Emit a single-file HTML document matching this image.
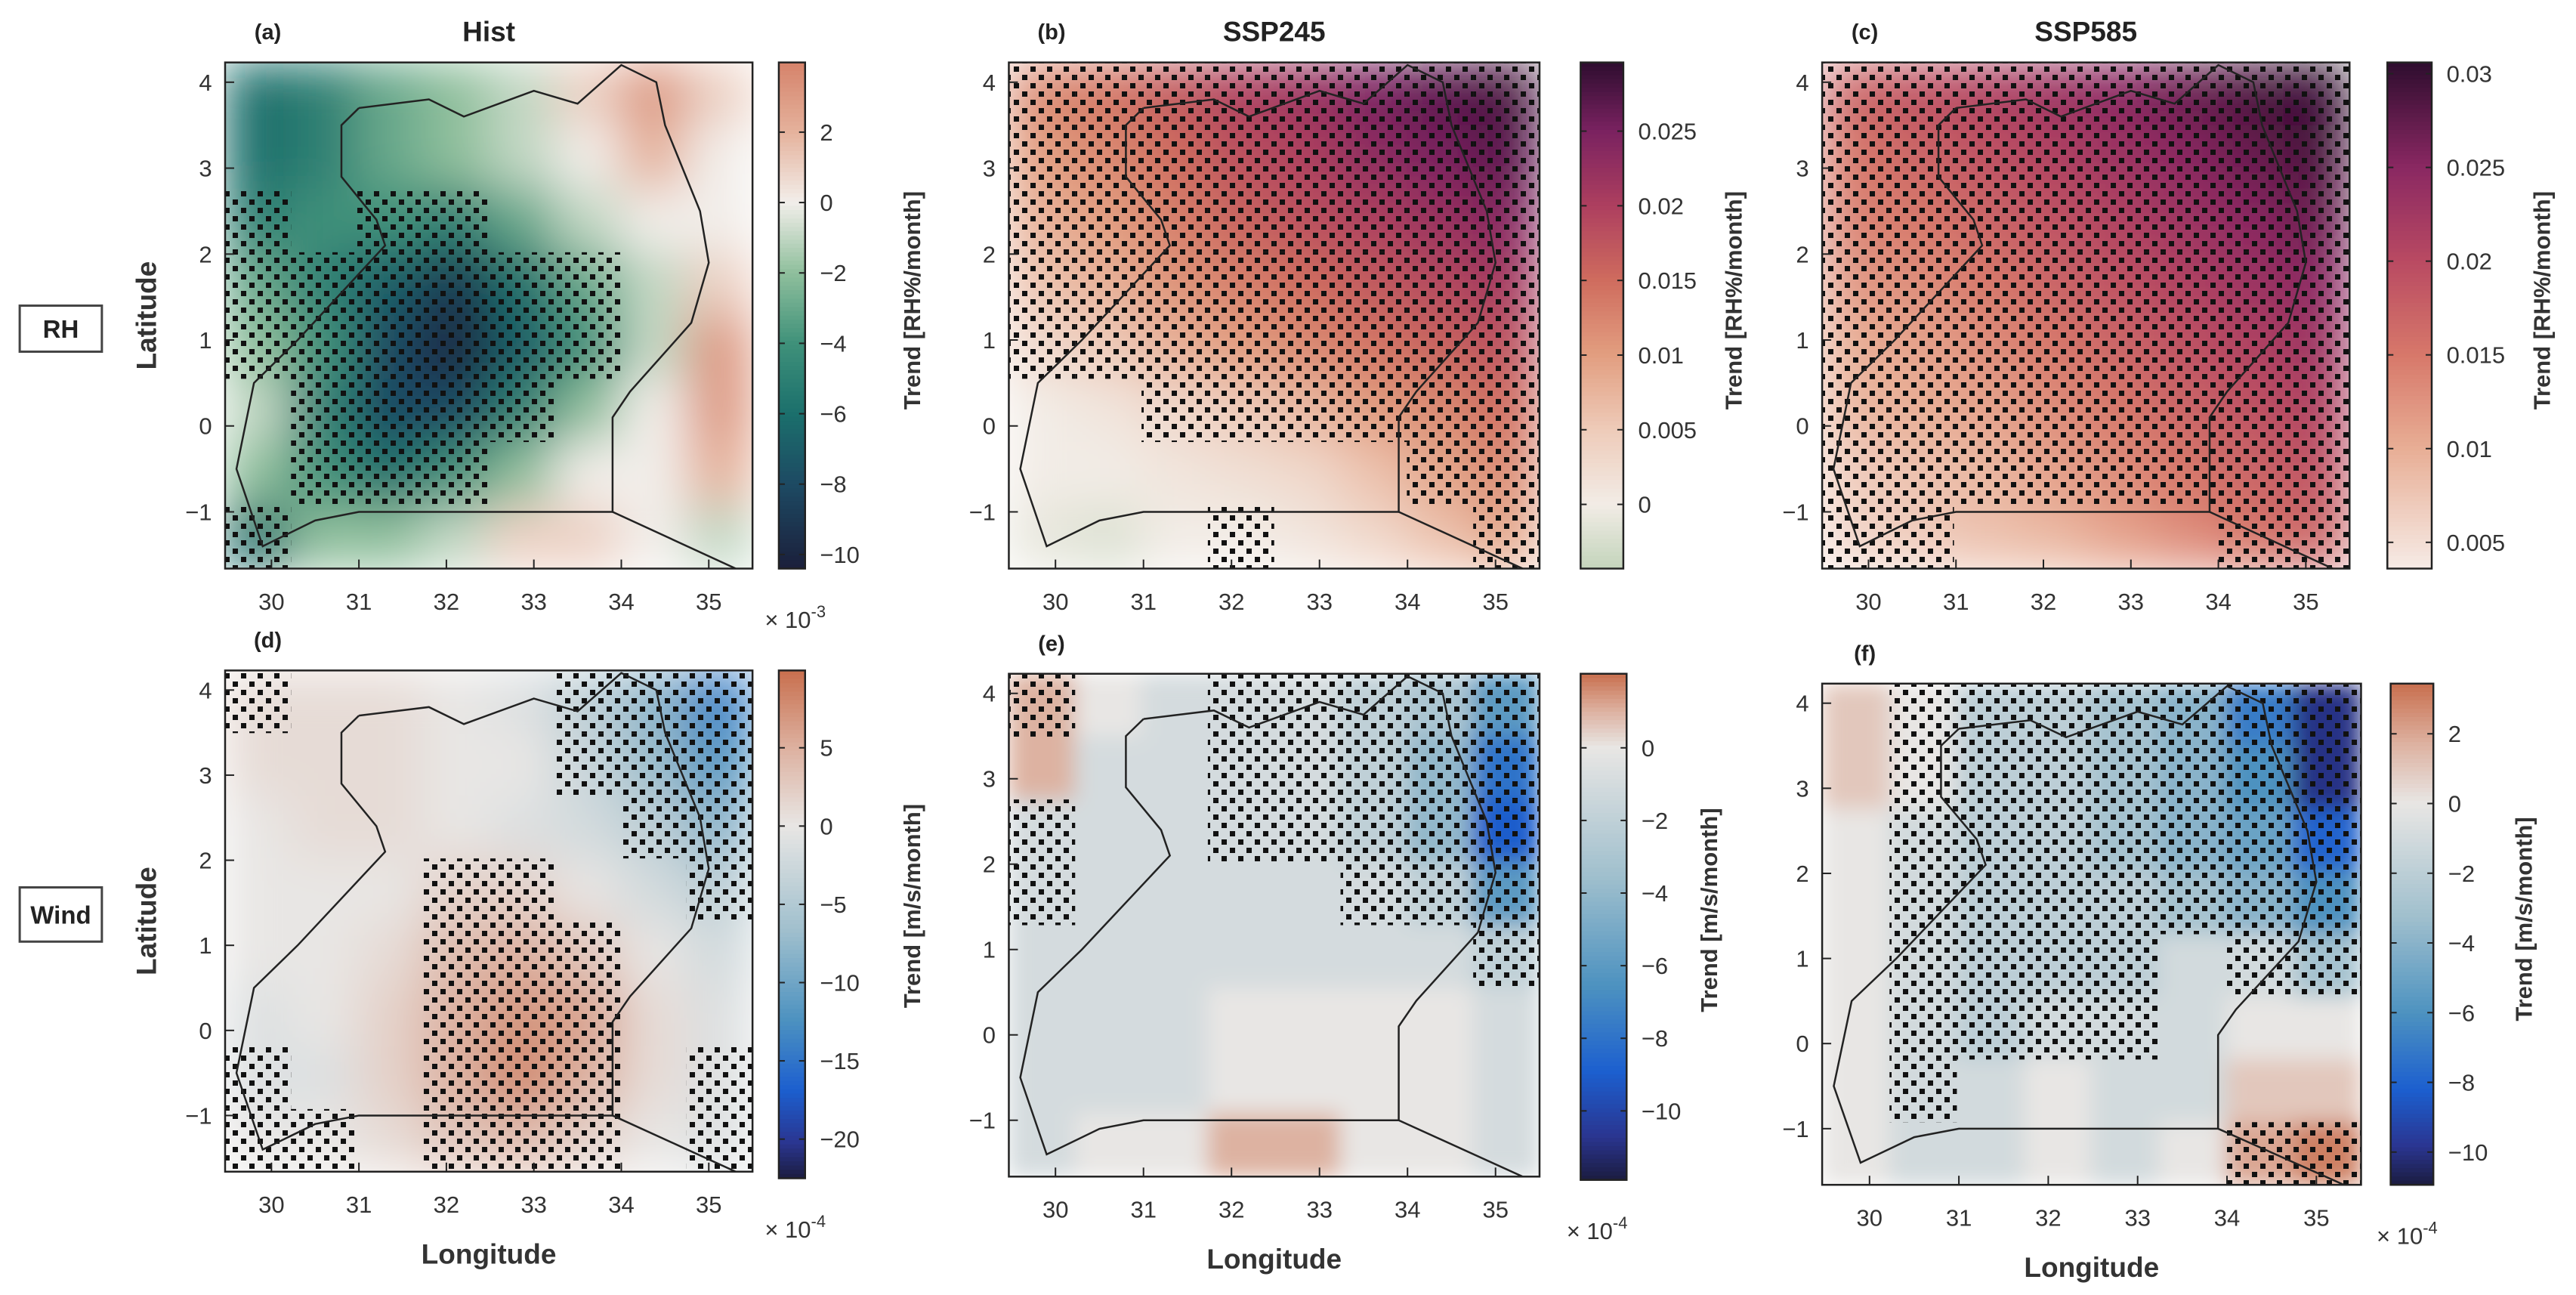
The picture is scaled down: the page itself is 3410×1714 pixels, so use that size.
<!DOCTYPE html>
<html><head><meta charset="utf-8">
<style>
html,body{margin:0;padding:0;background:#fff;}
svg{display:block;font-family:"Liberation Sans",Arial,sans-serif;}
</style></head>
<body>
<svg id="fig" width="3410" height="1714" viewBox="0 0 3410 1714" xmlns="http://www.w3.org/2000/svg">
<defs>
<pattern id="dots" width="22" height="22" patternUnits="userSpaceOnUse">
<rect x="0" y="0" width="7" height="7" fill="#111"/>
<rect x="11" y="11" width="7" height="7" fill="#111"/>
</pattern>
<filter id="blurA" x="-5%" y="-5%" width="110%" height="110%"><feGaussianBlur stdDeviation="32" edgeMode="duplicate"/></filter>
<filter id="blurB" x="-5%" y="-5%" width="110%" height="110%"><feGaussianBlur stdDeviation="14" edgeMode="duplicate"/></filter>
</defs>
<g id="root"></g>
</svg>
<script>
// ---- data (8x8 grids, rows north->south, cols west->east) ----
const fieldA=[[-6,-5,-3,-2,-1,1,3,1],[-6,-5,-3,-2,-1,0,2,0],[-5,-4,-4,-5,-3,-1,0,0],[-3,-5,-7,-9,-6,-3,-1,1],[-2,-4,-8,-10,-7,-4,-1,3],[-1,-5,-8,-8,-5,-2,0,3],[-2,-4,-6,-4,-2,0,0,2],[-6,-2,-2,-1,1,1,0,-1]];
const maskA=[[0,0,0,0,0,0,0,0],[0,0,0,0,0,0,0,0],[1,0,1,1,0,0,0,0],[1,1,1,1,1,1,0,0],[1,1,1,1,1,1,0,0],[0,1,1,1,1,0,0,0],[0,1,1,1,0,0,0,0],[1,0,0,0,0,0,0,0]];
const fieldB=[[12,14,17,20,22,25,27,28],[10,12,15,18,20,23,25,27],[8,10,13,16,18,20,22,24],[6,8,11,13,15,17,19,21],[3,5,8,10,12,14,16,18],[0,1,3,5,7,10,12,15],[0,0,1,2,3,6,9,12],[-1,-2,0,0,1,3,6,9]];
const maskB=[[1,1,1,1,1,1,1,1],[1,1,1,1,1,1,1,1],[1,1,1,1,1,1,1,1],[1,1,1,1,1,1,1,1],[1,1,1,1,1,1,1,1],[0,0,1,1,1,1,1,1],[0,0,0,0,0,0,1,1],[0,0,0,1,0,0,0,1]];
const fieldC=[[17,19,21,23,25,27,29,30],[15,17,19,21,23,25,27,29],[14,15,17,19,21,23,25,27],[12,13,15,17,19,21,23,25],[10,11,13,15,17,19,21,23],[9,10,11,13,15,17,19,21],[7,8,9,11,13,15,17,19],[6,7,8,9,11,13,15,17]];
const maskC=[[1,1,1,1,1,1,1,1],[1,1,1,1,1,1,1,1],[1,1,1,1,1,1,1,1],[1,1,1,1,1,1,1,1],[1,1,1,1,1,1,1,1],[1,1,1,1,1,1,1,1],[1,1,1,1,1,1,1,1],[1,1,0,0,0,0,1,1]];
const fieldD=[[1,1,1,0,-1,-4,-8,-14],[1,1,1,0,0,-3,-7,-12],[0,1,1,0,-1,-2,-4,-8],[0,0,0,2,2,0,-2,-4],[0,0,1,4,5,3,0,-2],[-1,0,2,5,7,6,1,-1],[-1,-1,2,5,8,5,1,-1],[0,0,1,3,4,2,0,-1]];
const maskD=[[1,0,0,0,0,1,1,1],[0,0,0,0,0,1,1,1],[0,0,0,0,0,0,1,1],[0,0,0,1,1,0,0,1],[0,0,0,1,1,1,0,0],[0,0,0,1,1,1,0,0],[1,0,0,1,1,1,0,1],[1,1,0,1,1,1,0,1]];
const fieldE=[[1,0,-1,-1,-1,-2,-3,-6],[1,-1,-1,-1,-1,-2,-4,-8],[-1,-1,-1,-1,-1,-2,-4,-9],[-1,-1,-1,-1,-1,-1,-2,-6],[-1,-1,-1,-1,-1,-1,-1,-2],[-1,-1,-1,0,0,0,0,-1],[-1,-1,-1,0,0,0,0,-1],[-1,0,0,1,1,0,0,-1]];
const maskE=[[1,0,0,1,1,1,1,1],[0,0,0,1,1,1,1,1],[1,0,0,1,1,1,1,1],[1,0,0,0,0,1,1,1],[0,0,0,0,0,0,0,1],[0,0,0,0,0,0,0,0],[0,0,0,0,0,0,0,0],[0,0,0,0,0,0,0,0]];
const fieldF=[[1,0,-2,-2,-3,-4,-7,-10],[1,0,-2,-2,-3,-4,-6,-10],[0,-1,-2,-2,-3,-4,-5,-8],[0,-1,-2,-2,-2,-3,-4,-6],[0,-1,-2,-2,-2,-1,-1,-3],[0,-1,-2,-1,-1,-1,0,0],[0,-1,-1,0,-1,-1,1,1],[0,-1,-1,0,-1,0,2,3]];
const maskF=[[0,1,1,1,1,1,1,1],[0,1,1,1,1,1,1,1],[0,1,1,1,1,1,1,1],[0,1,1,1,1,1,1,1],[0,1,1,1,1,0,1,1],[0,1,1,1,1,0,0,0],[0,1,0,0,0,0,0,0],[0,0,0,0,0,0,1,1]];
const lonTicks=[30,31,32,33,34,35];
const latTicks=[4,3,2,1,0,-1];
const cbTicksA=[2,0,-2,-4,-6,-8,-10];
const cbTicksB=[0.025,0.02,0.015,0.01,0.005,0];
const cbTicksC=[0.03,0.025,0.02,0.015,0.01,0.005];
const cbTicksD=[5,0,-5,-10,-15,-20];
const cbTicksE=[0,-2,-4,-6,-8,-10];
const cbTicksF=[2,0,-2,-4,-6,-8,-10];
const border=[[31.0,3.7],[31.8,3.8],[32.2,3.6],[33.0,3.9],[33.5,3.75],[34.0,4.2],[34.4,4.0],[34.5,3.5],[34.9,2.5],[35.0,1.9],[34.8,1.2],[34.1,0.4],[33.9,0.1],[33.9,-1.0],[31.0,-1.0],[30.5,-1.1],[29.9,-1.4],[29.6,-0.5],[29.8,0.5],[30.3,1.0],[31.3,2.1],[31.2,2.4],[30.8,2.9],[30.8,3.5],[31.0,3.7]];

// ---- helpers ----
const S=2.175, NS="http://www.w3.org/2000/svg";
const root=document.getElementById('root');
function mk(tag,attrs,parent){const e=document.createElementNS(NS,tag);for(const k in attrs)e.setAttribute(k,attrs[k]);(parent||root).appendChild(e);return e;}
function hex(h){return [parseInt(h.slice(1,3),16),parseInt(h.slice(3,5),16),parseInt(h.slice(5,7),16)];}
function interp(stops,v){
  if(v<=stops[0][0])return stops[0][1];
  for(let i=1;i<stops.length;i++){if(v<=stops[i][0]){const a=stops[i-1],b=stops[i];const t=(v-a[0])/(b[0]-a[0]);const c1=hex(a[1]),c2=hex(b[1]);return 'rgb('+c1.map((c,j)=>Math.round(c+(c2[j]-c)*t)).join(',')+')';}}
  return stops[stops.length-1][1];
}
function windStops(vmin,vmax){return [[vmin,'#1b1c40'],[vmin*0.9,'#2a3590'],[vmin*0.75,'#1c5fcf'],[vmin*0.55,'#4d92c0'],[vmin*0.3,'#9fbfcd'],[0,'#e8e6e4'],[vmax*0.5,'#ddb1a0'],[vmax,'#c86f4e']];}
const stA=[[-10.4,'#1b1f3b'],[-8,'#1d4a63'],[-6,'#1b6f6c'],[-4,'#3f917a'],[-2,'#8fbf9c'],[0,'#f2eeea'],[2,'#e5b29c'],[4,'#d5826a']];
const stB=[[-4.3,'#c3d4bb'],[0,'#f2ece6'],[5,'#eecbb9'],[10,'#e29e80'],[15,'#cf6c5e'],[20,'#ad3f5f'],[25,'#7a2260'],[29.6,'#2e0d2f']];
const stC=[[3.6,'#f6ebe6'],[10,'#e8ae95'],[15,'#d7786a'],[20,'#b94a62'],[25,'#8a2862'],[30.6,'#2e0d2f']];

const panels=[
 {id:'a',label:'(a)',title:'Hist',x0:137,x1:458,y0:38,y1:346,cb:[474,490,38,346],vt:3.98,vb:-10.4,ticks:cbTicksA,scale:1,stops:stA,field:fieldA,mask:maskA,unit:'Trend [RH%/month]',cbx:560,exp:'-3',lat:true,lon:false,blur:'blurA'},
 {id:'b',label:'(b)',title:'SSP245',x0:614,x1:937,y0:38,y1:346,cb:[962,988,38,346],vt:0.0296,vb:-0.0043,ticks:cbTicksB,scale:1000,stops:stB,field:fieldB,mask:maskB,unit:'Trend [RH%/month]',cbx:1060,exp:null,lat:false,lon:false,blur:'blurA'},
 {id:'c',label:'(c)',title:'SSP585',x0:1109,x1:1430,y0:38,y1:346,cb:[1453,1480,38,346],vt:0.0306,vb:0.0036,ticks:cbTicksC,scale:1000,stops:stC,field:fieldC,mask:maskC,unit:'Trend [RH%/month]',cbx:1552,exp:null,lat:false,lon:false,blur:'blurA'},
 {id:'d',label:'(d)',title:'',x0:137,x1:458,y0:408,y1:713,cb:[474,490,408,717],vt:9.94,vb:-22.5,ticks:cbTicksD,scale:1,stops:windStops(-22.5,9.94),field:fieldD,mask:maskD,unit:'Trend [m/s/month]',cbx:560,exp:'-4',lat:true,lon:true,blur:'blurA'},
 {id:'e',label:'(e)',title:'',x0:614,x1:937,y0:410,y1:716,cb:[962,990,410,718],vt:2.04,vb:-11.9,ticks:cbTicksE,scale:1,stops:windStops(-11.9,2.04),field:fieldE,mask:maskE,unit:'Trend [m/s/month]',cbx:1045,exp:'-4',lat:false,lon:true,blur:'blurB'},
 {id:'f',label:'(f)',title:'',x0:1109,x1:1437,y0:416,y1:721,cb:[1455,1481,416,721],vt:3.44,vb:-10.94,ticks:cbTicksF,scale:1,stops:windStops(-10.94,3.44),field:fieldF,mask:maskF,unit:'Trend [m/s/month]',cbx:1541,exp:'-4',lat:false,lon:true,blur:'blurB'}
];
const LON0=29.47,LON1=35.5,LAT0=4.23,LAT1=-1.66;
function minus(s){return s.replace('-','\u2212');}

panels.forEach(p=>{
  const X0=p.x0*S,X1=p.x1*S,Y0=p.y0*S,Y1=p.y1*S,W=X1-X0,H=Y1-Y0;
  const xs=lon=>X0+(lon-LON0)/(LON1-LON0)*W;
  const ys=lat=>Y0+(LAT0-lat)/(LAT0-LAT1)*H;
  const g=mk('g',{});
  
  
  const cp=mk('clipPath',{id:'clip'+p.id},g);
  mk('rect',{x:X0,y:Y0,width:W,height:H},cp);
  const map=mk('g',{'clip-path':'url(#clip'+p.id+')'},g);
  
  
  const nr=p.field.length,nc=p.field[0].length,cw=W/nc,ch=H/nr;
  const fg=mk('g',{filter:'url(#'+p.blur+')'},map);
  p.field.forEach((row,r)=>row.forEach((v,c)=>{
    const cell=mk('rect',{x:X0+c*cw-0.5,y:Y0+r*ch-0.5,width:cw+1,height:ch+1,fill:interp(p.stops,v)},fg);
    
    
  }));
  p.mask.forEach((row,r)=>row.forEach((m,c)=>{
    if(!m)return;
    const st=mk('rect',{x:X0+c*cw,y:Y0+r*ch,width:cw,height:ch,fill:'url(#dots)'},map);
    
    
  }));
  const bd=mk('polyline',{points:border.map(q=>xs(q[0])+','+ys(q[1])).join(' '),fill:'none',stroke:'#222','stroke-width':2.5},map);
  
  
  const bd2=mk('polyline',{points:[[33.9,-1.0],[35.5,-1.75]].map(q=>xs(q[0])+','+ys(q[1])).join(' '),fill:'none',stroke:'#222','stroke-width':2.5},map);
  
  
  const fr=mk('rect',{x:X0,y:Y0,width:W,height:H,fill:'none',stroke:'#222','stroke-width':2.5},g);
  
  
  lonTicks.forEach(t=>{
    mk('line',{x1:xs(t),x2:xs(t),y1:Y1,y2:Y1-12,stroke:'#222','stroke-width':2},g);
    const tx=mk('text',{x:xs(t),y:Y1+25*S,'font-size':31,fill:'#333','text-anchor':'middle'},g);
    tx.textContent=String(t);
    
    
  });
  latTicks.forEach(t=>{
    mk('line',{x1:X0,x2:X0+12,y1:ys(t),y2:ys(t),stroke:'#222','stroke-width':2},g);
    const ty=mk('text',{x:X0-8*S,y:ys(t)+11,'font-size':31,fill:'#333','text-anchor':'end'},g);
    ty.textContent=minus(String(t));
    
    
  });
  const lb=mk('text',{x:(p.x0+26)*S,y:(p.y0-14)*S,'font-size':29,'font-weight':'bold',fill:'#222','text-anchor':'middle'},g);
  lb.textContent=p.label;
  
  
  if(p.title){
    const tt=mk('text',{x:(p.x0+p.x1)/2*S,y:(p.y0-13)*S,'font-size':37,'font-weight':'bold',fill:'#222','text-anchor':'middle'},g);
    tt.textContent=p.title;
    
    
  }
  if(p.lat){
    const yl=mk('text',{transform:'translate('+(95*S)+','+((p.y0+p.y1)/2*S)+') rotate(-90)','font-size':37,'font-weight':'bold',fill:'#333','text-anchor':'middle'},g);
    yl.textContent='Latitude';
    
    
  }
  if(p.lon){
    const xl=mk('text',{x:(p.x0+p.x1)/2*S,y:(p.y1+56)*S,'font-size':37,'font-weight':'bold',fill:'#333','text-anchor':'middle'},g);
    xl.textContent='Longitude';
    
    
  }
  const [cx0,cx1,cy0,cy1]=p.cb.map(v=>v*S);
  const cbg=mk('g',{},g);
  
  
  const N=120;
  for(let i=0;i<N;i++){
    const v=(p.vt+(p.vb-p.vt)*(i+0.5)/N)*p.scale;
    mk('rect',{x:cx0,y:cy0+(cy1-cy0)*i/N,width:cx1-cx0,height:(cy1-cy0)/N+1,fill:interp(p.stops,v)},cbg);
  }
  mk('rect',{x:cx0,y:cy0,width:cx1-cx0,height:cy1-cy0,fill:'none',stroke:'#222','stroke-width':2.5},cbg);
  const cys=v=>cy0+(p.vt-v)/(p.vt-p.vb)*(cy1-cy0);
  p.ticks.forEach(t=>{
    const y=cys(t);
    mk('line',{x1:cx0,x2:cx0+8,y1:y,y2:y,stroke:'#222','stroke-width':2},cbg);
    mk('line',{x1:cx1,x2:cx1-8,y1:y,y2:y,stroke:'#222','stroke-width':2},cbg);
    const tl=mk('text',{x:cx1+9*S,y:y+11,'font-size':31,fill:'#333'},cbg);
    tl.textContent=minus(String(t));
    
    
  });
  const ut=mk('text',{transform:'translate('+(p.cbx*S)+','+((p.y0+p.y1)/2*S-20)+') rotate(-90)','font-size':31,'font-weight':'bold',fill:'#333','text-anchor':'middle'},cbg);
  ut.textContent=p.unit;
  
  
  if(p.exp){
    const ex=mk('text',{x:(p.cb[0]+10)*S,y:(p.cb[3]+36)*S,'font-size':31,fill:'#333','text-anchor':'middle'},cbg);
    ex.innerHTML='\u00d7 10<tspan dy="-14" font-size="22">'+p.exp+'</tspan>';
    
    
  }
});
[['RH',186,214],['Wind',540,573]].forEach(([t,a,b])=>{
  const bx=mk('rect',{x:12*S,y:a*S,width:50*S,height:(b-a)*S,fill:'#fff',stroke:'#444','stroke-width':3});
  
  
  const tx=mk('text',{x:37*S,y:(a+b)/2*S+12,'font-size':33,'font-weight':'bold',fill:'#222','text-anchor':'middle'});
  tx.textContent=t;
  
  
});
</script>
</body></html>
